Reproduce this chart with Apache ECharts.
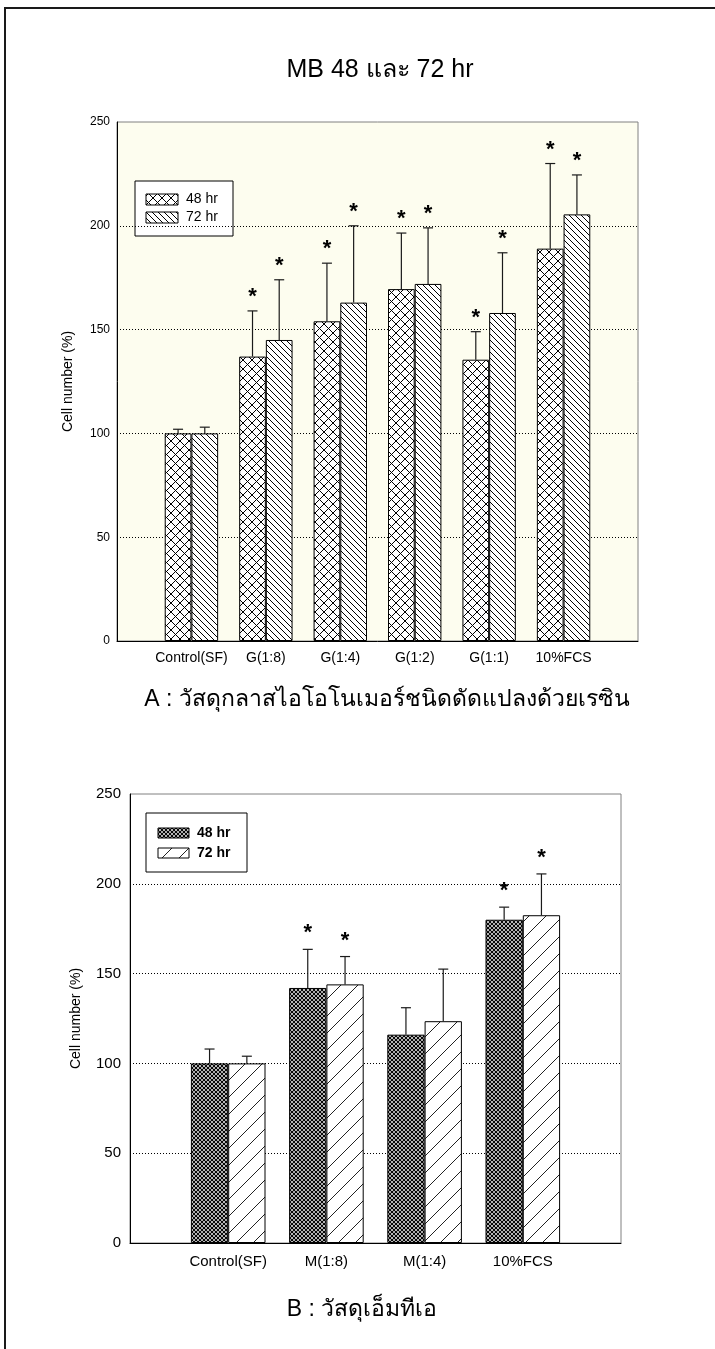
<!DOCTYPE html>
<html>
<head>
<meta charset="utf-8">
<script src="https://cdn.jsdelivr.net/npm/echarts@6/dist/echarts.min.js"></script>
<style>
  html, body { margin: 0; padding: 0; background: #fff; }
  #chart { width: 715px; height: 1349px; }
</style>
</head>
<body>
<div id="chart"></div>
<script>
// ---- Panel A: resin-modified glass ionomer extracts ----
const catsA = ['Control(SF)', 'G(1:8)', 'G(1:4)', 'G(1:2)', 'G(1:1)', '10%FCS'];
const meanA48 = [100, 137, 154, 169.5, 135.5, 189];
const sdA48   = [2, 22, 28, 27, 13.5, 41];
const meanA72 = [100, 145, 163, 172, 158, 205.5];
const sdA72   = [3, 29, 37, 27, 29, 19];
const sigA48  = [0, 1, 1, 1, 1, 1];
const sigA72  = [0, 1, 1, 1, 1, 1];

// ---- Panel B: MTA extracts ----
const catsB = ['Control(SF)', 'M(1:8)', 'M(1:4)', '10%FCS'];
const meanB48 = [100, 142, 116, 180];
const sdB48   = [8, 21.5, 15, 7];
const meanB72 = [100, 144, 123.5, 182.5];
const sdB72   = [4, 15.5, 29, 23];
const sigB48  = [0, 1, 0, 1];
const sigB72  = [0, 1, 0, 1];

// shared y scale
const yMin = 0, yMax = 250, yStep = 50;
const seriesNames = ['48 hr', '72 hr'];

const FONT = '"Liberation Sans", Arial, "DejaVu Sans", sans-serif';

// ---- hatch fills ----
function hatch(size, lw, color, dirs) {
  const c = document.createElement('canvas');
  c.width = c.height = size;
  const g = c.getContext('2d');
  g.fillStyle = '#fff';
  g.fillRect(0, 0, size, size);
  g.strokeStyle = color;
  g.lineWidth = lw;
  for (const d of dirs) {
    for (let k = -1; k <= 1; k++) {
      g.beginPath();
      if (d === '\\') { g.moveTo(k * size, 0); g.lineTo(k * size + size, size); }
      else { g.moveTo(k * size, size); g.lineTo(k * size + size, 0); }
      g.stroke();
    }
  }
  return { image: c, repeat: 'repeat' };
}
const fillA48 = hatch(9, 1, '#000', ['\\', '/']);
const fillA72 = hatch(6, 1, '#000', ['\\']);
const fillB48 = hatch(4, 1.15, '#000', ['\\', '/']);
const fillB72 = hatch(17, 1, '#222', ['/']);

// pad categories so groups sit on interior ticks
const pad = arr => [null, ...arr, null];
const padCats = arr => ['', ...arr, ''];

function errRender(side, barW, starGap) {
  return function (params, api) {
    const x = api.value(0), m = api.value(1), t = api.value(2), s = api.value(3);
    const base = api.coord([x, m]);
    const top = api.coord([x, t]);
    const cx = base[0] + side * barW / 2;
    const st = { stroke: '#1a1a1a', lineWidth: 1.2 };
    const children = [
      { type: 'line', shape: { x1: cx, y1: base[1], x2: cx, y2: top[1] }, style: st },
      { type: 'line', shape: { x1: cx - 5, y1: top[1], x2: cx + 5, y2: top[1] }, style: st }
    ];
    if (s) {
      children.push({
        type: 'text', x: cx, y: top[1] - starGap,
        style: { text: '*', font: 'bold 22px ' + FONT, fill: '#000', align: 'center', verticalAlign: 'middle' }
      });
    }
    return { type: 'group', children };
  };
}
const errData = (mean, sd, sig) => mean.map((m, i) => [i + 1, m, m + sd[i], sig[i]]);

function yAxisCfg(grid, fs, margin, nameGap) {
  return {
    gridIndex: grid, type: 'value', min: yMin, max: yMax, interval: yStep,
    name: 'Cell number (%)', nameLocation: 'middle', nameGap: nameGap,
    nameTextStyle: { color: '#000', fontSize: 14, fontFamily: FONT },
    axisLine: { show: true, lineStyle: { color: '#000', width: 1 } },
    axisTick: { show: false },
    axisLabel: { color: '#000', fontSize: fs, margin: margin, fontFamily: FONT },
    splitLine: { show: true, showMinLine: false, showMaxLine: false,
      lineStyle: { color: '#000', width: 1, type: [1, 2] } }
  };
}
function xAxisCfg(grid, cats, fs, margin) {
  return {
    gridIndex: grid, type: 'category', data: padCats(cats), boundaryGap: false,
    axisLine: { show: true, lineStyle: { color: '#000', width: 1 } },
    axisTick: { show: false },
    axisLabel: { color: '#000', fontSize: fs, margin: margin, interval: 0, fontFamily: FONT },
    splitLine: { show: false }
  };
}
function barCfg(name, axis, data, fill, w) {
  return {
    name, type: 'bar', xAxisIndex: axis, yAxisIndex: axis, data: pad(data),
    barWidth: w, barGap: '0%',
    itemStyle: { color: fill, borderColor: '#000', borderWidth: 1 },
    emphasis: { disabled: true }, z: 3
  };
}
function errCfg(axis, data, side, w, gap) {
  return {
    type: 'custom', xAxisIndex: axis, yAxisIndex: axis, data: data,
    renderItem: errRender(side, w, gap), z: 4, silent: true
  };
}

const wA = 26.7, wB = 37.3;

function legendBox(x, y, w, h, swX, swW, swH, rows, fills, bold) {
  const els = [{ type: 'rect', shape: { x, y, width: w, height: h },
    style: { fill: '#fff', stroke: '#000', lineWidth: 1 } }];
  rows.forEach((ry, i) => {
    els.push({ type: 'rect', shape: { x: swX, y: ry, width: swW, height: swH },
      style: { fill: fills[i], stroke: '#000', lineWidth: 1 } });
    els.push({ type: 'text', x: swX + swW + 8, y: ry + swH / 2,
      style: { text: seriesNames[i], font: (bold ? 'bold ' : '') + '14px ' + FONT,
        fill: '#000', verticalAlign: 'middle', align: 'left' } });
  });
  return els;
}

const chart = echarts.init(document.getElementById('chart'), null, { renderer: 'canvas' });
chart.setOption({
  animation: false,
  backgroundColor: '#fff',
  grid: [
    { left: 117, top: 122, width: 521, height: 519, show: true,
      backgroundColor: '#fdfdef', borderColor: '#808080', borderWidth: 1 },
    { left: 130, top: 794, width: 491, height: 449, show: true,
      backgroundColor: 'transparent', borderColor: '#808080', borderWidth: 1 }
  ],
  xAxis: [xAxisCfg(0, catsA, 14, 10), xAxisCfg(1, catsB, 15, 11)],
  yAxis: [yAxisCfg(0, 12, 7, 42), yAxisCfg(1, 15, 9, 47)],
  series: [
    barCfg(seriesNames[0], 0, meanA48, fillA48, wA),
    barCfg(seriesNames[1], 0, meanA72, fillA72, wA),
    errCfg(0, errData(meanA48, sdA48, sigA48), -1, wA, 14),
    errCfg(0, errData(meanA72, sdA72, sigA72), 1, wA, 14),
    barCfg(seriesNames[0], 1, meanB48, fillB48, wB),
    barCfg(seriesNames[1], 1, meanB72, fillB72, wB),
    errCfg(1, errData(meanB48, sdB48, sigB48), -1, wB, 16),
    errCfg(1, errData(meanB72, sdB72, sigB72), 1, wB, 16)
  ],
  graphic: [
    // page frame
    { type: 'polyline', shape: { points: [[5, 1349], [5, 8], [715, 8]] },
      style: { stroke: '#1a1a1a', lineWidth: 2, fill: null }, z: 10 },
    // headings
    { type: 'text', x: 380, y: 70, style: { text: 'MB 48 และ 72 hr', font: '25px ' + FONT,
      fill: '#000', align: 'center', verticalAlign: 'middle' } },
    { type: 'text', x: 387, y: 700, style: { text: 'A : วัสดุกลาสไอโอโนเมอร์ชนิดดัดแปลงด้วยเรซิน',
      font: '23px ' + FONT, fill: '#000', align: 'center', verticalAlign: 'middle' } },
    { type: 'text', x: 362, y: 1310, style: { text: 'B : วัสดุเอ็มทีเอ',
      font: '23px ' + FONT, fill: '#000', align: 'center', verticalAlign: 'middle' } },
    // legends
    { type: 'group', z: 20, children: legendBox(135, 181, 98, 55, 146, 32, 11, [194, 212], [fillA48, fillA72], false) },
    { type: 'group', z: 20, children: legendBox(146, 813, 101, 59, 158, 31, 10, [828, 848], [fillB48, fillB72], true) }
  ]
});
</script>
</body>
</html>
